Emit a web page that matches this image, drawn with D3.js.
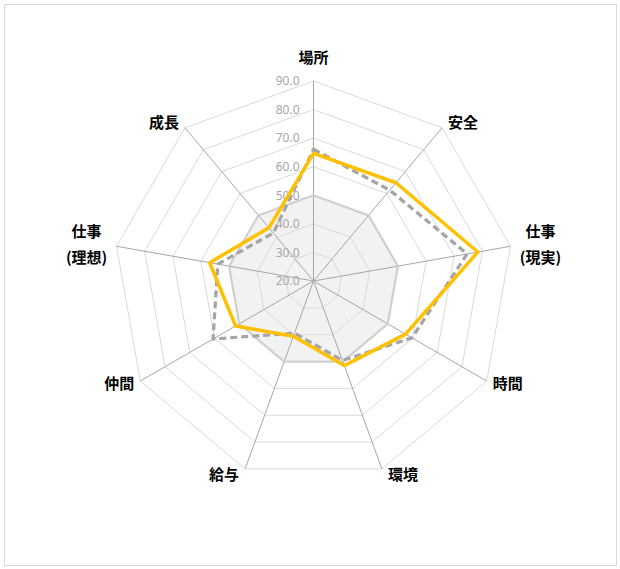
<!DOCTYPE html>
<html>
<head>
<meta charset="utf-8">
<script src="https://cdn.jsdelivr.net/npm/d3@7"></script>
<style>
    body { margin: 0; background: #fff; }
    svg.vis { display: block; }
</style>
</head>
<body>
<svg class="vis" width="620" height="569"></svg>
<script>

// axis labels, clockwise from the top
const categories = ["場所", "安全", "仕事\n(現実)", "時間", "環境", "給与", "仲間", "仕事\n(理想)", "成長"];

// series
const series_solid  = [64.7, 64.9, 78.4, 57.2, 51.5, 40.6, 51.5, 56.9, 44.3];
const series_dashed = [66.1, 61.5, 74.6, 59.8, 49.6, 39.4, 60.6, 54.0, 41.9];
const series_base   = [50, 50, 50, 50, 50, 50, 50, 50, 50];

const ticks = [20, 30, 40, 50, 60, 70, 80, 90];

const vis = {

    refs: {
        svg: "svg.vis"
    },

    sels: {
        svg: null
    },

    dims: {
        w: 620,
        h: 569,
        cx: 313.5,
        cy: 281,
        R: 200
    },

    scales: {
        r: null,
        angle: null
    },

    f: {

        generates_refs: function() {
            vis.sels.svg = d3.select(vis.refs.svg);
        },

        make_scales: function() {
            vis.scales.r = d3.scaleLinear()
                .domain([d3.min(ticks), d3.max(ticks)])
                .range([0, vis.dims.R]);
            vis.scales.angle = d3.scaleLinear()
                .domain([0, categories.length])
                .range([0, 2 * Math.PI]);
        },

        point: function(i, v) {
            const a = vis.scales.angle(i);
            const r = vis.scales.r(v);
            return [r * Math.sin(a), -r * Math.cos(a)];
        }

    },

    draw: {

        frame: function() {
            vis.sels.svg.append("rect")
                .attr("x", 4.5).attr("y", 4.5)
                .attr("width", 612).attr("height", 561)
                .attr("fill", "#fff")
                .attr("stroke", "#d9d9d9");
        },

        chart: function() {

            const g = vis.sels.svg.append("g")
                .attr("transform", `translate(${vis.dims.cx},${vis.dims.cy})`);

            const line = d3.line().curve(d3.curveLinearClosed);
            const poly = vals => line(vals.map((v, i) => vis.f.point(i, v)));

            // base area (filled)
            g.append("path")
                .attr("d", poly(series_base))
                .attr("fill", "#f2f2f2");

            // rings
            g.append("g")
                .selectAll("path")
                .data(ticks.slice(1))
                .join("path")
                .attr("d", t => poly(categories.map(() => t)))
                .attr("fill", "none")
                .attr("stroke", "#d9d9d9")
                .attr("stroke-width", 1);

            // spokes
            g.append("g")
                .selectAll("line")
                .data(categories)
                .join("line")
                .attr("x1", 0).attr("y1", 0)
                .attr("x2", (d, i) => vis.f.point(i, d3.max(ticks))[0])
                .attr("y2", (d, i) => vis.f.point(i, d3.max(ticks))[1])
                .attr("stroke", "#a6a6a6")
                .attr("stroke-width", 1);

            // base outline
            g.append("path")
                .attr("d", poly(series_base))
                .attr("fill", "none")
                .attr("stroke", "#d0d0d0")
                .attr("stroke-width", 2.25);

            // tick labels
            g.append("g")
                .selectAll("text")
                .data(ticks)
                .join("text")
                .attr("x", -14)
                .attr("y", t => -vis.scales.r(t))
                .attr("dy", "0.35em")
                .attr("text-anchor", "end")
                .attr("fill", "#a6a6a6")
                .style("font", "12px 'Noto Sans', 'Noto Sans CJK JP', sans-serif")
                .text(t => t.toFixed(1));

            // dashed series
            g.append("path")
                .attr("d", poly(series_dashed))
                .attr("fill", "none")
                .attr("stroke", "#a5a5a5")
                .attr("stroke-width", 3.25)
                .attr("stroke-dasharray", "7,4")
                .attr("stroke-linejoin", "round");

            // solid series
            g.append("path")
                .attr("d", poly(series_solid))
                .attr("fill", "none")
                .attr("stroke", "#ffc000")
                .attr("stroke-width", 3.5)
                .attr("stroke-linejoin", "round");

            // category labels
            g.append("g")
                .selectAll("text")
                .data(categories)
                .join("text")
                .attr("fill", "#000")
                .style("font", "bold 15px 'Noto Sans CJK JP', sans-serif")
                .each(function(d, i) {
                    const a = vis.scales.angle(i);
                    const s = Math.sin(a), c = Math.cos(a);
                    const [px, py] = vis.f.point(i, d3.max(ticks));
                    const lines = d.split("\n");
                    let x, y, anchor;
                    if (Math.abs(s) < 0.1) {
                        x = px; y = py - 23; anchor = "middle";
                    } else {
                        y = py - c * 6;
                        if (lines.length > 1) {
                            // two-line labels are centred under themselves
                            x = px + Math.sign(s) * 30;
                            anchor = "middle";
                        } else {
                            x = px + Math.sign(s) * 6;
                            anchor = s > 0 ? "start" : "end";
                        }
                    }
                    const t = d3.select(this)
                        .attr("text-anchor", anchor);
                    const lh = 26;
                    lines.forEach((ln, k) => {
                        t.append("tspan")
                            .attr("x", x)
                            .attr("y", y + (k - (lines.length - 1) / 2) * lh)
                            .attr("dy", "0.35em")
                            .text(ln);
                    });
                });
        }
    },

    control: {
        init: function() {
            vis.f.generates_refs();
            vis.f.make_scales();
            vis.draw.frame();
            vis.draw.chart();
        }
    }
};

vis.control.init();
</script>
</body>
</html>
